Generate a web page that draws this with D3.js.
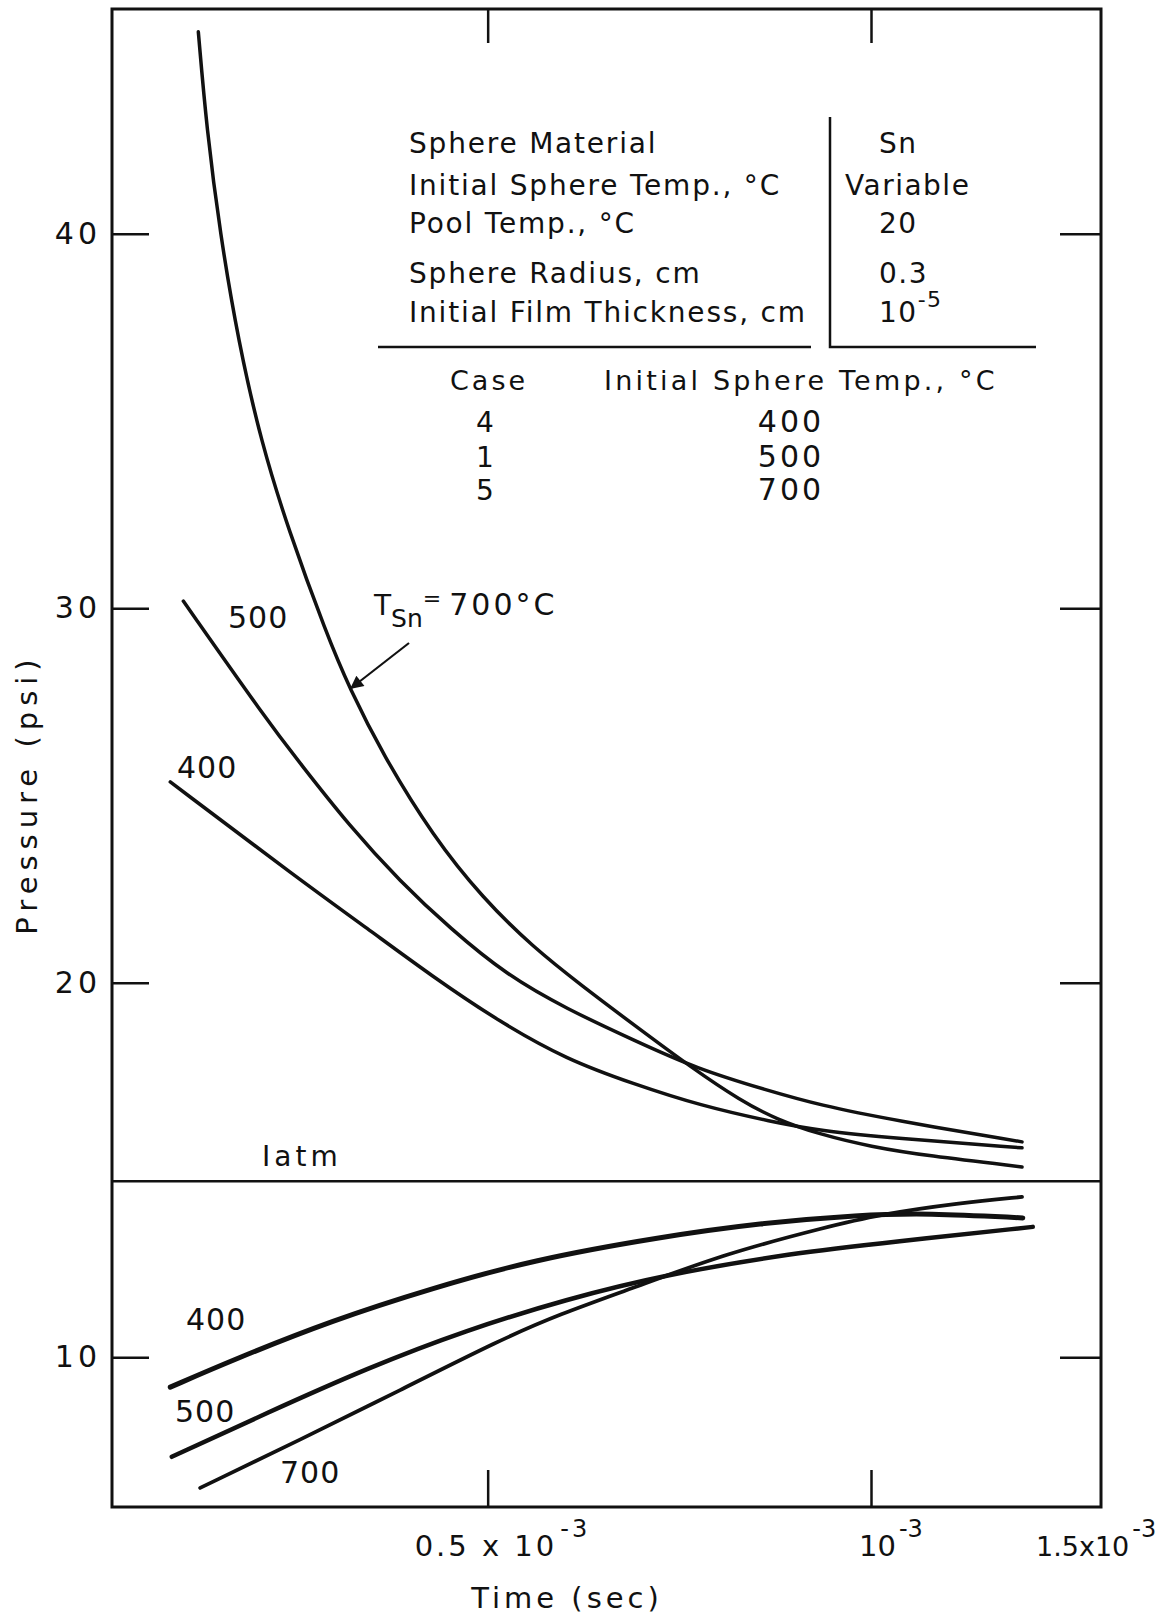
<!DOCTYPE html>
<html>
<head>
<meta charset="utf-8">
<script src="https://cdn.jsdelivr.net/npm/d3@7"></script>
<style>
  body { margin: 0; background: #fff; }
  svg text { font-family: "DejaVu Sans", sans-serif; fill: #111; }
</style>
</head>
<body>
<svg width="1165" height="1616"></svg>
<script>
// values: time in units of 10^-3 sec, pressure in psi
const hi400 = [[0.086,25.36],[0.255,22.75],[0.343,21.45],[0.429,20.15],[0.516,18.95],[0.603,17.95],[0.69,17.3],[0.777,16.72],[0.872,16.28],[0.933,16.05],[1.029,15.85],[1.197,15.59]];
const hi500 = [[0.103,30.19],[0.212,27.01],[0.255,25.87],[0.32,24.18],[0.386,22.7],[0.451,21.45],[0.525,20.2],[0.603,19.3],[0.69,18.47],[0.773,17.7],[0.864,17.13],[0.933,16.73],[1.029,16.33],[1.197,15.75]];
const hi700 = [[0.1226,45.39],[0.1335,42.8],[0.151,40.0],[0.175,37.1],[0.205,34.4],[0.24,32.1],[0.29,29.3],[0.32,27.85],[0.363,26.1],[0.429,23.9],[0.494,22.25],[0.559,20.95],[0.624,19.9],[0.689,18.9],[0.768,17.7],[0.83,16.85],[0.877,16.35],[0.933,15.95],[1.0,15.62],[1.073,15.38],[1.197,15.08]];
const lo400 = [[0.086,9.2],[0.168,9.93],[0.298,10.99],[0.429,11.85],[0.559,12.6],[0.725,13.21],[0.855,13.58],[0.986,13.8],[1.073,13.85],[1.198,13.72]];
const lo500 = [[0.088,7.34],[0.212,8.51],[0.343,9.71],[0.473,10.73],[0.603,11.55],[0.73,12.2],[0.898,12.78],[1.029,13.08],[1.211,13.48]];
const lo700 = [[0.125,6.51],[0.255,7.79],[0.386,9.12],[0.516,10.46],[0.594,11.15],[0.69,11.85],[0.812,12.78],[0.943,13.48],[1.008,13.8],[1.116,14.12],[1.197,14.28]];

const atm = 14.7;
const yTicks = [10, 20, 30, 40];
const xTicks = [0.5, 1.0];
const xTickMant = ["0.5 x 10", "10"];
const xEndLabel = "1.5x10";

const specLabels = ["Sphere Material", "Initial Sphere Temp., °C", "Pool Temp., °C", "Sphere Radius, cm", "Initial Film Thickness, cm"];
const specValues = ["Sn", "Variable", "20", "0.3", "10"];
const caseIds = ["4", "1", "5"];
const caseTemps = ["400", "500", "700"];

let svg = d3.select('svg');

let x = d3.scaleLinear().domain([0.01, 1.3]).range([112, 1101]);
let y = d3.scaleLinear().domain([6, 46]).range([1507, 9]);

// frame
svg.append('rect')
   .attr('x', x.range()[0]).attr('y', y.range()[1])
   .attr('width', x.range()[1] - x.range()[0])
   .attr('height', y.range()[0] - y.range()[1])
   .attr('fill', 'none').attr('stroke', '#111').attr('stroke-width', 3);

function styleAxis(g) {
   g.select('.domain').remove();
   g.selectAll('.tick line').attr('stroke', '#111').attr('stroke-width', 2.5);
   g.selectAll('.tick text').attr('fill', '#111').style('font-size', '30px')
    .style('font-family', '"DejaVu Sans", sans-serif');
}

svg.append('g').attr('transform', 'translate(' + x.range()[0] + ',0)')
   .call(d3.axisLeft(y).tickValues(yTicks).tickSize(-37).tickPadding(11))
   .call(styleAxis)
   .selectAll('.tick text').attr('letter-spacing', 4);

svg.append('g').attr('transform', 'translate(' + x.range()[1] + ',0)')
   .call(d3.axisRight(y).tickValues(yTicks).tickSize(-41).tickFormat(''))
   .call(styleAxis);

svg.append('g').attr('transform', 'translate(0,' + y.range()[1] + ')')
   .call(d3.axisTop(x).tickValues(xTicks).tickSize(-34).tickFormat(''))
   .call(styleAxis);

svg.append('g').attr('transform', 'translate(0,' + y.range()[0] + ')')
   .call(d3.axisBottom(x).tickValues(xTicks).tickSize(-37).tickFormat(''))
   .call(styleAxis);

// x tick labels with superscript exponents
let xLabs = [
   { v: xTicks[0], m: xTickMant[0], dx: -73, ls: 3, fs: 29 },
   { v: xTicks[1], m: xTickMant[1], dx: -12, ls: 0, fs: 29 },
   { v: x.domain()[1], m: xEndLabel, dx: -65, ls: 0, fs: 27 }
];
let xl = svg.selectAll('.xlab')
   .data(xLabs)
   .enter().append('text')
   .attr('class', 'xlab')
   .attr('x', d => x(d.v) + d.dx)
   .attr('y', 1556)
   .attr('letter-spacing', d => d.ls)
   .style('font-size', d => d.fs + 'px');
xl.append('tspan').text(d => d.m);
xl.append('tspan').attr('dy', -19).attr('dx', 3).style('font-size', '24px').text('-3');

svg.append('text')
   .attr('x', 567).attr('y', 1608)
   .attr('text-anchor', 'middle')
   .attr('letter-spacing', 4)
   .style('font-size', '29px')
   .text('Time  (sec)');

svg.append('text')
   .attr('transform', 'translate(37,' + 794 + ') rotate(-90)')
   .attr('text-anchor', 'middle')
   .attr('letter-spacing', 6)
   .style('font-size', '29px')
   .text('Pressure  (psi)');

// 1 atm line
svg.append('line')
   .attr('x1', x.range()[0]).attr('x2', x.range()[1])
   .attr('y1', y(atm)).attr('y2', y(atm))
   .attr('stroke', '#111').attr('stroke-width', 2.5);

svg.append('text')
   .attr('x', 262).attr('y', y(atm) - 15)
   .attr('letter-spacing', 4)
   .style('font-size', '28px')
   .text('Iatm');

// curves, smoothed like the hand-drawn originals
let line = d3.line()
   .x(d => x(d[0]))
   .y(d => y(d[1]))
   .curve(d3.curveBasis);

let curves = [
   { d: hi400, w: 3.5 }, { d: hi500, w: 3.5 }, { d: hi700, w: 3.5 },
   { d: lo400, w: 5 }, { d: lo500, w: 4.5 }, { d: lo700, w: 3.8 }
];

svg.selectAll('.curve')
   .data(curves)
   .enter().append('path')
   .attr('class', 'curve')
   .attr('d', c => line(c.d))
   .attr('fill', 'none')
   .attr('stroke', '#111')
   .attr('stroke-width', c => c.w)
   .attr('stroke-linecap', 'round');

// curve labels
let curveLabels = [
   { t: '500', x: 228, y: 628 }, { t: '400', x: 177, y: 778 },
   { t: '400', x: 186, y: 1330 }, { t: '500', x: 175, y: 1422 }, { t: '700', x: 280, y: 1483 }
];
svg.selectAll('.clab')
   .data(curveLabels)
   .enter().append('text')
   .attr('class', 'clab')
   .attr('x', d => d.x).attr('y', d => d.y)
   .attr('letter-spacing', 1)
   .style('font-size', '30px')
   .text(d => d.t);

let tsn = svg.append('text').attr('x', 374).attr('y', 615).style('font-size', '28px');
tsn.append('tspan').text('T');
tsn.append('tspan').attr('dy', 12).style('font-size', '25px').text('Sn');
tsn.append('tspan').attr('dy', -21).style('font-size', '22px').text('=');
tsn.append('tspan').attr('dy', 9).attr('dx', 8).attr('letter-spacing', 3).style('font-size', '30px').text('700°C');

// arrow onto the 700 curve
svg.append('defs').append('marker')
   .attr('id', 'head')
   .attr('viewBox', '0 0 10 10')
   .attr('refX', 10).attr('refY', 5)
   .attr('markerWidth', 10).attr('markerHeight', 6)
   .attr('orient', 'auto')
   .attr('markerUnits', 'strokeWidth')
   .append('path').attr('d', 'M0,0 L10,5 L0,10 Z').attr('fill', '#111');

svg.append('line')
   .attr('x1', 409).attr('y1', 643)
   .attr('x2', 350).attr('y2', 689)
   .attr('stroke', '#111').attr('stroke-width', 2.2)
   .attr('marker-end', 'url(#head)');

// parameter block
let specRows = [153, 195, 233, 283, 322];
svg.selectAll('.spec')
   .data(specLabels)
   .enter().append('text')
   .attr('class', 'spec')
   .attr('x', 409).attr('y', (d, i) => specRows[i])
   .attr('letter-spacing', 1.8)
   .style('font-size', '28px')
   .text(d => d);

let vals = svg.selectAll('.specv')
   .data(specValues)
   .enter().append('text')
   .attr('class', 'specv')
   .attr('x', (d, i) => i === 1 ? 845 : 879).attr('y', (d, i) => specRows[i])
   .attr('letter-spacing', 1.5)
   .style('font-size', '28px');
vals.append('tspan').text(d => d);
vals.filter((d, i) => i === 4).append('tspan')
   .attr('dy', -15).style('font-size', '22px').text('-5');

svg.append('path')
   .attr('d', 'M830,117 V347 H1036 M378,347 H811')
   .attr('fill', 'none').attr('stroke', '#111').attr('stroke-width', 2.5);

svg.append('text').attr('x', 450).attr('y', 390)
   .attr('letter-spacing', 3).style('font-size', '27px').text('Case');
svg.append('text').attr('x', 604).attr('y', 390)
   .attr('letter-spacing', 3.2).style('font-size', '27px').text('Initial Sphere  Temp., °C');

let caseRows = [432, 467, 500];
svg.selectAll('.cid')
   .data(caseIds)
   .enter().append('text')
   .attr('class', 'cid')
   .attr('x', 485).attr('y', (d, i) => caseRows[i])
   .attr('text-anchor', 'middle')
   .style('font-size', '28px')
   .text(d => d);
svg.selectAll('.ctemp')
   .data(caseTemps)
   .enter().append('text')
   .attr('class', 'ctemp')
   .attr('x', 791).attr('y', (d, i) => caseRows[i])
   .attr('text-anchor', 'middle')
   .attr('letter-spacing', 3)
   .style('font-size', '30px')
   .text(d => d);
</script>
</body>
</html>
